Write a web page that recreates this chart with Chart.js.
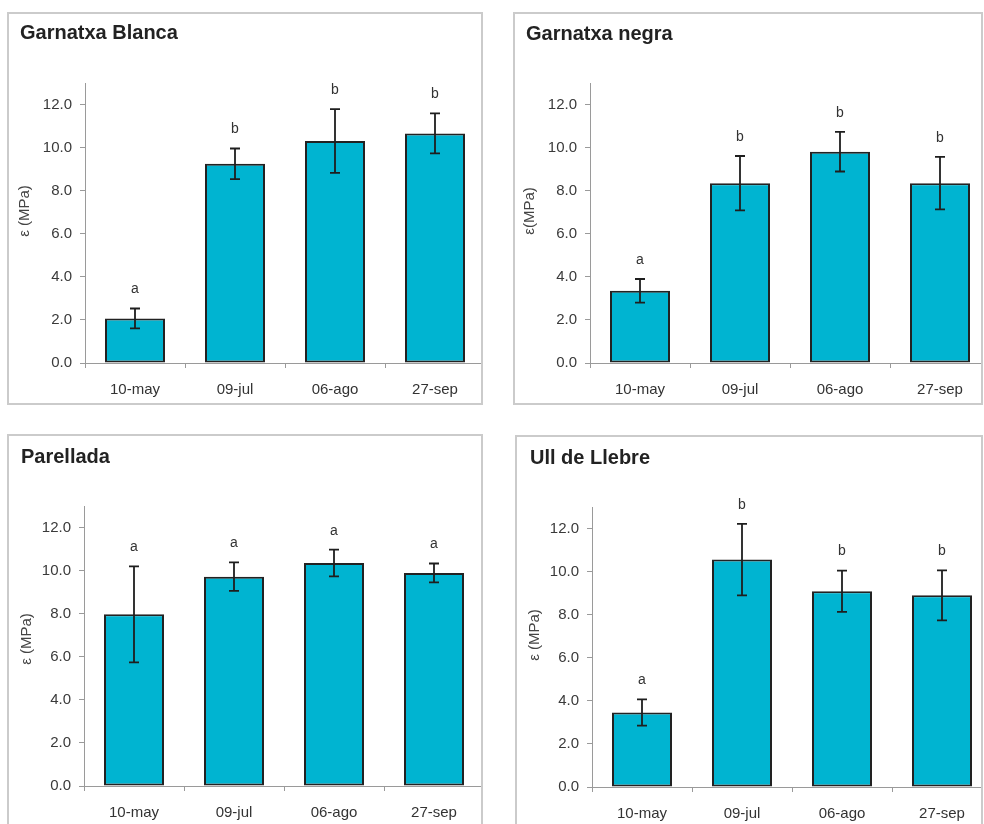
<!DOCTYPE html>
<html>
<head>
<meta charset="utf-8">
<title>ε (MPa)</title>
<script src="https://cdn.jsdelivr.net/npm/chart.js@4.4.1/dist/chart.umd.min.js"></script>
<style>
  html, body { margin: 0; padding: 0; background: #fff; width: 984px; height: 824px; overflow: hidden; }
  .box { position: absolute; box-sizing: border-box; border: 2px solid #cbcbcb; overflow: hidden; background: #fff; }
  .box canvas { position: absolute; }
</style>
</head>
<body>
<div class="box" style="left:7px;top:12px;width:476px;height:393px">
  <canvas id="c1" width="480" height="400" style="left:-4px;top:-2px;width:480px;height:400px"></canvas>
</div>
<div class="box" style="left:513px;top:12px;width:470px;height:393px">
  <canvas id="c2" width="480" height="400" style="left:-5px;top:-2px;width:480px;height:400px"></canvas>
</div>
<div class="box" style="left:7px;top:434px;width:476px;height:400px">
  <canvas id="c3" width="480" height="400" style="left:-5px;top:-1px;width:480px;height:400px"></canvas>
</div>
<div class="box" style="left:515px;top:435px;width:468px;height:400px">
  <canvas id="c4" width="480" height="400" style="left:-5px;top:-1px;width:480px;height:400px"></canvas>
</div>
<script>
// Sampling dates and y-axis ticks
const dates = ['10-may', '09-jul', '06-ago', '27-sep'];
const yTickValues = [0, 2, 4, 6, 8, 10, 12];

// Garnatxa Blanca
const meanGB = [2.07, 9.25, 10.31, 10.66];
const errGB = [0.46, 0.71, 1.48, 0.93];
const letGB = ['a', 'b', 'b', 'b'];

// Garnatxa negra
const meanGN = [3.35, 8.35, 9.81, 8.35];
const errGN = [0.55, 1.26, 0.92, 1.22];
const letGN = ['a', 'b', 'b', 'b'];

// Parellada
const meanPA = [7.97, 9.72, 10.35, 9.89];
const errPA = [2.23, 0.66, 0.62, 0.44];
const letPA = ['a', 'a', 'a', 'a'];

// Ull de Llebre
const meanUL = [3.46, 10.56, 9.09, 8.90];
const errUL = [0.61, 1.66, 0.96, 1.16];
const letUL = ['a', 'b', 'b', 'b'];

const FONT = '"Liberation Sans", Arial, Helvetica, sans-serif';

// Error bars (mean ± error) with significance letters above them
const errorBarPlugin = {
  id: 'errorBars',
  afterDatasetsDraw(chart) {
    const ctx = chart.ctx;
    const y = chart.scales.y;
    chart.data.datasets.forEach((ds, i) => {
      const meta = chart.getDatasetMeta(i);
      meta.data.forEach((bar, j) => {
        const v = ds.data[j], e = ds.errorBars[j];
        const yt = y.getPixelForValue(v + e);
        const yb = y.getPixelForValue(v - e);
        const x = bar.x;
        ctx.save();
        ctx.strokeStyle = '#1e1e1e';
        ctx.lineWidth = 1.8;
        ctx.beginPath();
        ctx.moveTo(x, yt); ctx.lineTo(x, yb);
        ctx.moveTo(x - 5, yt); ctx.lineTo(x + 5, yt);
        ctx.moveTo(x - 5, yb); ctx.lineTo(x + 5, yb);
        ctx.stroke();
        ctx.fillStyle = '#333';
        ctx.font = '14px ' + FONT;
        ctx.textAlign = 'center';
        ctx.textBaseline = 'middle';
        ctx.fillText(ds.letters[j], x, yt - 19);
        ctx.restore();
      });
    });
  }
};

// Panel heading and rotated y-axis caption
const panelTextPlugin = {
  id: 'panelText',
  afterDraw(chart, args, opts) {
    const ctx = chart.ctx;
    ctx.save();
    ctx.fillStyle = '#222';
    ctx.font = 'bold 20px ' + FONT;
    ctx.textAlign = 'left';
    ctx.textBaseline = 'middle';
    ctx.fillText(opts.title, opts.titleX, opts.titleY);
    ctx.translate(opts.yTitleX, opts.yTitleY);
    ctx.rotate(-Math.PI / 2);
    ctx.fillStyle = '#444';
    ctx.font = '15px ' + FONT;
    ctx.textAlign = 'center';
    ctx.fillText(opts.yTitle, 0, 0);
    ctx.restore();
  }
};

function makePanel(id, title, yTitle, means, errs, letters, pos) {
  new Chart(document.getElementById(id), {
    type: 'bar',
    data: {
      labels: dates,
      datasets: [{
        data: means,
        errorBars: errs,
        letters: letters,
        backgroundColor: '#00B4D1',
        borderColor: '#222',
        borderWidth: 2,
        borderSkipped: false,
        categoryPercentage: 1,
        barPercentage: 0.6
      }]
    },
    options: {
      responsive: false,
      animation: false,
      devicePixelRatio: 1,
      layout: { padding: { top: 71, left: 0, right: 0, bottom: 0 } },
      plugins: {
        legend: { display: false },
        tooltip: { enabled: false },
        panelText: Object.assign({ title: title, yTitle: yTitle }, pos)
      },
      scales: {
        x: {
          grid: { display: true, drawOnChartArea: false, drawTicks: true, tickLength: 5, color: '#9a9a9a', offset: true },
          border: { display: true, color: '#9a9a9a', width: 1 },
          ticks: { color: '#333', font: { family: FONT, size: 15 }, padding: 13, maxRotation: 0 },
          afterFit: s => { s.height = 49; }
        },
        y: {
          min: 0,
          max: 13,
          grid: { display: true, drawOnChartArea: false, drawTicks: true, tickLength: 5, color: '#9a9a9a' },
          border: { display: true, color: '#9a9a9a', width: 1 },
          ticks: {
            color: '#3a3a3a',
            font: { family: FONT, size: 15 },
            padding: 8,
            callback: v => Number(v).toFixed(1)
          },
          afterBuildTicks: s => { s.ticks = yTickValues.map(v => ({ value: v })); },
          afterFit: s => { s.width = 80; }
        }
      }
    },
    plugins: [errorBarPlugin, panelTextPlugin]
  });
}

makePanel('c1', 'Garnatxa Blanca', 'ε (MPa)', meanGB, errGB, letGB,
  { titleX: 15, titleY: 21, yTitleX: 20, yTitleY: 199 });
makePanel('c2', 'Garnatxa negra', 'ε(MPa)', meanGN, errGN, letGN,
  { titleX: 16, titleY: 22, yTitleX: 20, yTitleY: 199 });
makePanel('c3', 'Parellada', 'ε (MPa)', meanPA, errPA, letPA,
  { titleX: 17, titleY: 22, yTitleX: 23, yTitleY: 204 });
makePanel('c4', 'Ull de Llebre', 'ε (MPa)', meanUL, errUL, letUL,
  { titleX: 18, titleY: 22, yTitleX: 23, yTitleY: 199 });
</script>
</body>
</html>
